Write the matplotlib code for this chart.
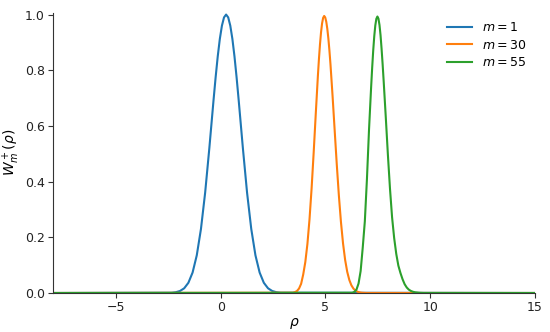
import matplotlib
matplotlib.use("Agg")
import matplotlib.pyplot as plt

# ---- data ----
labels = ["$m=1$", "$m=30$", "$m=55$"]
colors = ["#1f77b4", "#ff7f0e", "#2ca02c"]

rho_m1 = [-8.0, -2.34, -2.14, -1.94, -1.74, -1.54, -1.34, -1.14, -0.94, -0.74, -0.54,
          -0.34, -0.24, -0.14, -0.04, 0.06, 0.16, 0.26, 0.36, 0.46, 0.56, 0.66,
          0.76, 0.86, 1.06, 1.26, 1.46, 1.66, 1.86, 2.06, 2.26, 2.46, 2.66, 2.86, 15.0]
w_m1 = [0.0, 0.0010, 0.0028, 0.0072, 0.0169, 0.0367, 0.0734, 0.1353, 0.2301, 0.3604, 0.5205,
        0.6926, 0.7748, 0.8494, 0.9123, 0.9600, 0.9898, 1.0, 0.9898, 0.9600, 0.9123, 0.8494,
        0.7748, 0.6926, 0.5205, 0.3604, 0.2301, 0.1353, 0.0734, 0.0367, 0.0169, 0.0072, 0.0028,
        0.0010, 0.0]

rho_m30 = [-8.0, 3.44, 3.54, 3.64, 3.74, 3.84, 3.94, 4.04, 4.14, 4.24, 4.34, 4.44, 4.54,
           4.64, 4.69, 4.74, 4.79, 4.84, 4.89, 4.94, 4.99, 5.04, 5.09, 5.14, 5.19, 5.24,
           5.34, 5.44, 5.54, 5.64, 5.74, 5.84, 5.94, 6.04, 6.14, 6.24, 6.34, 6.44, 6.54,
           6.64, 6.74, 6.94, 15.0]
w_m30 = [0.0, 0.0010, 0.0030, 0.0070, 0.0160, 0.0330, 0.0666, 0.1113, 0.1762, 0.2645,
         0.3759, 0.5061, 0.6456, 0.7801, 0.8403, 0.8930, 0.9363, 0.9685, 0.9883, 0.995,
         0.9897, 0.9741, 0.9485, 0.9139, 0.8712, 0.8218, 0.7081, 0.5850, 0.4630, 0.3512,
         0.2553, 0.1779, 0.1188, 0.0760, 0.0467, 0.0274, 0.0154, 0.0083, 0.0043, 0.0021,
         0.0010, 0.0002, 0.0]

rho_m55 = [-8.0, 6.28, 6.38, 6.48, 6.58, 6.68, 6.78, 6.88, 6.98, 7.08, 7.18, 7.23, 7.28,
           7.33, 7.38, 7.43, 7.48, 7.53, 7.58, 7.63, 7.68, 7.73, 7.78, 7.88, 7.98, 8.08,
           8.18, 8.28, 8.38, 8.48, 8.58, 8.68, 8.78, 8.88, 8.98, 9.08, 9.18, 9.28, 9.48,
           9.68, 15.0]
w_m55 = [0.0, 0.0010, 0.0040, 0.0120, 0.0340, 0.0790, 0.1630, 0.2572, 0.4082, 0.5868,
         0.7387, 0.8085, 0.8707, 0.9222, 0.9610, 0.9849, 0.993, 0.9853, 0.9624, 0.9256,
         0.8763, 0.8207, 0.7597, 0.6310, 0.4971, 0.3752, 0.2721, 0.1973, 0.1403, 0.0983,
         0.0719, 0.0495, 0.0316, 0.0197, 0.0120, 0.0073, 0.0043, 0.0025, 0.0008, 0.0002, 0.0]

xlim = (-8, 15)
ylim = (0, 1.007)
xticks = [-5, 0, 5, 10, 15]
yticks = [0.0, 0.2, 0.4, 0.6, 0.8, 1.0]

# ---- drawing ----
plt.rcParams["font.family"] = ["DejaVu Sans"]
plt.rcParams["mathtext.fontset"] = "dejavusans"

fig = plt.figure(figsize=(5.5, 3.32), dpi=100)
ax = fig.add_axes([0.0964, 0.1175, 0.8763, 0.8445])

for xs, ys, lab, c in zip([rho_m1, rho_m30, rho_m55], [w_m1, w_m30, w_m55], labels, colors):
    ax.plot(xs, ys, color=c, lw=1.5, label=lab)

ax.set_xlim(*xlim)
ax.set_ylim(*ylim)
ax.set_xticks(xticks)
ax.set_yticks(yticks)
ax.tick_params(labelsize=9, length=3.5, width=0.8, pad=2.5,
               colors="#333333", labelcolor="#222222")
for s in ["top", "right"]:
    ax.spines[s].set_visible(False)
for s in ["left", "bottom"]:
    ax.spines[s].set_color("#333333")
    ax.spines[s].set_linewidth(0.8)

ax.set_xlabel(r"$\rho$", fontsize=10, labelpad=1)
ax.set_ylabel(r"$W_m^+(\rho)$", fontsize=10, labelpad=2)

ax.legend(loc="upper right", frameon=False, fontsize=9, handlelength=2.0,
          borderaxespad=0.3, labelspacing=0.35)

fig.savefig("out.png", dpi=100)
